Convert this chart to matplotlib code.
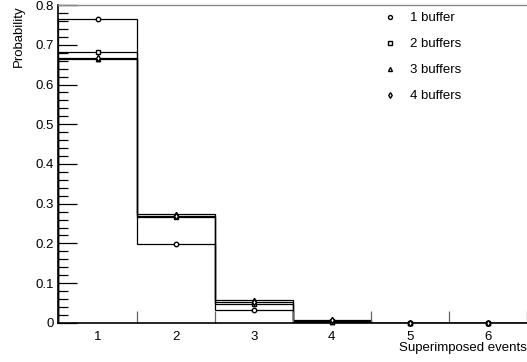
import matplotlib
matplotlib.use("Agg")
import matplotlib.pyplot as plt
import numpy as np

plt.rcParams['font.family'] = ['Liberation Sans', 'DejaVu Sans']

categories = [1, 2, 3, 4, 5, 6]
buf1 = [0.765, 0.198, 0.033, 0.004, 0.0003, 0.0001]
buf2 = [0.683, 0.266, 0.047, 0.004, 0.0004, 0.0001]
buf3 = [0.664, 0.275, 0.058, 0.003, 0.0003, 0.0001]
buf4 = [0.668, 0.270, 0.052, 0.008, 0.0010, 0.0002]
labels = ["1 buffer", "2 buffers", "3 buffers", "4 buffers"]
markers = ["o", "s", "^", "d"]

fig = plt.figure(figsize=(5.27, 3.62), dpi=100)
ax = fig.add_axes([0.111, 0.108, 0.889, 0.878])

cats = np.array(categories, dtype=float)
edges = np.concatenate([cats - 0.5, [cats[-1] + 0.5]])

for vals, lab, mk in zip([buf1, buf2, buf3, buf4], labels, markers):
    ax.stairs(vals, edges, baseline=0, color='black', lw=0.9)
    ax.plot(cats, vals, linestyle='none', marker=mk, ms=3.2, mfc='white',
            mec='black', mew=1.0, label=lab, clip_on=False, zorder=3)

ax.set_xlim(edges[0], edges[-1])
ax.set_ylim(0, 0.8)

# y ticks ROOT style
ax.set_yticks(np.arange(0, 0.81, 0.1))
ax.set_yticklabels(['0', '0.1', '0.2', '0.3', '0.4', '0.5', '0.6', '0.7', '0.8'])
ax.set_yticks(np.arange(0, 0.81, 0.02), minor=True)
ax.tick_params(axis='y', which='major', direction='in', length=14, width=0.9, labelsize=9.5, pad=3)
ax.tick_params(axis='y', which='minor', direction='in', length=7, width=0.9)

# x ticks at bin edges, labels at centres
ax.set_xticks(edges)
ax.set_xticklabels([''] * len(edges))
ax.set_xticks(cats, minor=True)
ax.set_xticklabels([str(c) for c in categories], minor=True)
ax.tick_params(axis='x', which='major', direction='in', length=9, width=0.9, color='#666666')
ax.tick_params(axis='x', which='minor', length=0, labelsize=9.5, pad=6)

ax.spines['right'].set_visible(False)
ax.spines['top'].set_color('#888888')
ax.spines['top'].set_linewidth(1.0)
ax.spines['left'].set_linewidth(1.2)
ax.spines['bottom'].set_linewidth(1.2)

ax.set_ylabel('Probability', fontsize=9.5, loc='top', labelpad=8)
ax.set_xlabel('Superimposed events', fontsize=9.5, loc='right', labelpad=-1)

leg = ax.legend(loc='upper left', frameon=False, fontsize=9.5, handlelength=1.0,
                handletextpad=1.0, labelspacing=1.05, borderaxespad=0.0,
                bbox_to_anchor=(0.682, 0.995), markerscale=0.9)

fig.savefig('out.png', dpi=100)
